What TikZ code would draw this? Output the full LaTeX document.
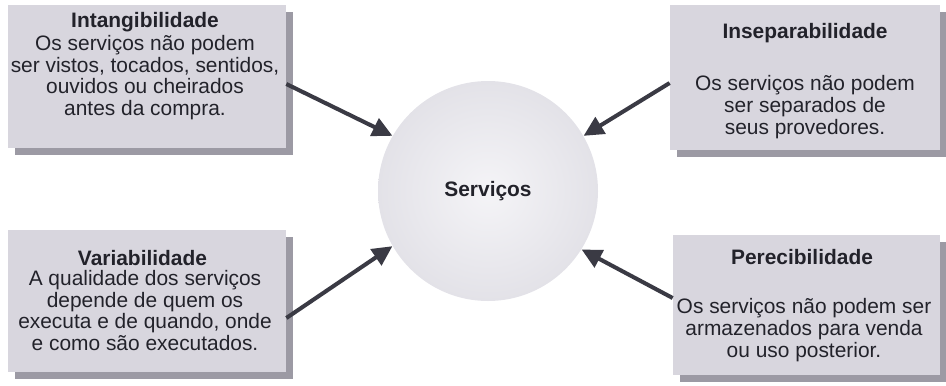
\documentclass[tikz,border=0pt]{standalone}
\usepackage{fontspec}
\setmainfont{Liberation Sans}
\usetikzlibrary{arrows.meta,shadows}
\definecolor{boxgray}{RGB}{216,214,222}
\definecolor{shadegray}{RGB}{156,154,164}
\definecolor{ballgray}{RGB}{234,233,239}
\definecolor{inkgray}{RGB}{34,34,42}
\definecolor{arrowgray}{RGB}{58,58,68}

\begin{document}
\begin{tikzpicture}[
    box/.style={rectangle, fill=boxgray, inner sep=0pt,
      drop shadow={shadow xshift=0.14cm, shadow yshift=-0.14cm, fill=shadegray, opacity=1}},
    txt/.style={align=center, text=inkgray, inner sep=0pt, font=\fontsize{11.9}{12.4}\selectfont},
    ttl/.style={txt, font=\fontsize{11.9}{12.4}\selectfont\bfseries},
    arr/.style={-{Triangle[length=0.40cm,width=0.38cm]}, line width=2.3pt, arrowgray}]
  \useasboundingbox (0,0) rectangle (18.92,-7.70);

  % the four boxes
  \node[box, minimum width=5.56cm, minimum height=2.86cm] (intang) at (2.94,-1.53) {};
  \node[box, minimum width=5.56cm, minimum height=2.84cm] (varia) at (2.94,-6.02) {};
  \node[box, minimum width=5.40cm, minimum height=2.90cm] (insep) at (16.10,-1.55) {};
  \node[box, minimum width=5.34cm, minimum height=2.80cm] (perec) at (16.13,-6.10) {};

  % the services ball
  \node[circle, minimum size=4.4cm, inner color=ballgray!50!white, outer color=ballgray!97!black] (serv) at (9.76,-3.82) {};
  \node[ttl] (servtxt) at (serv) {Serviços};

  % texts
  \node[ttl] (intangttl) at (2.90,-0.44) {Intangibilidade};
  \node[txt] (intangtxt) at (2.90,-1.55) {Os serviços não podem\\ser vistos, tocados, sentidos,\\ouvidos ou cheirados\\antes da compra.};

  \node[ttl] (variattl) at (2.85,-5.16) {Variabilidade};
  \node[txt] (variatxt) at (2.90,-6.21) {A qualidade dos serviços\\depende de quem os\\executa e de quando, onde\\e como são executados.};

  \node[ttl] (insepttl) at (16.10,-0.66) {Inseparabilidade};
  \node[txt] (inseptxt) at (16.10,-2.14) {Os serviços não podem\\ser separados de\\seus provedores.};

  \node[ttl] (perecttl) at (16.04,-5.14) {Perecibilidade};
  \node[txt] (perectxt) at (16.08,-6.60) {Os serviços não podem ser\\armazenados para venda\\ou uso posterior.};

  % arrows into the ball
  \draw[arr] ([yshift=-0.15cm]intang.east) -- (serv.150);
  \draw[arr] ([yshift=-0.11cm]insep.west) -- (serv.30);
  \draw[arr] ([yshift=-0.34cm]varia.east) -- (serv.210);
  \draw[arr] ([yshift=0.14cm]perec.west) -- (serv.328);
\end{tikzpicture}
\end{document}
